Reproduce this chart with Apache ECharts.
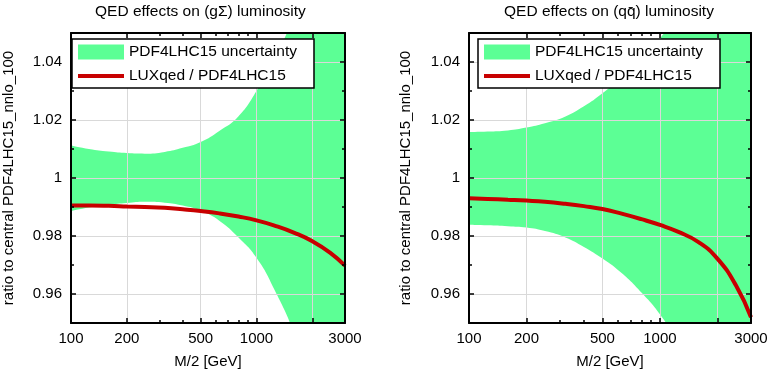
<!DOCTYPE html>
<html>
<head>
<meta charset="utf-8">
<script src="https://cdn.jsdelivr.net/npm/echarts@6/dist/echarts.min.js"></script>
<style>html,body{margin:0;padding:0;background:#fff}#c{width:771px;height:374px}</style>
</head>
<body>
<div id="c"></div>
<script>
// ---- data ----
const massPoints = [100, 125, 160, 200, 250, 320, 400, 500, 630, 800, 1000, 1250, 1600, 2000, 2500, 3000];

// (g Sigma) luminosity
const gsLux   = [0.9905, 0.9905, 0.9904, 0.9902, 0.9900, 0.9897, 0.9892, 0.9886, 0.9878, 0.9867, 0.9854, 0.9836, 0.9811, 0.9782, 0.9742, 0.9698];
const gsLower = [0.9886, 0.9898, 0.9908, 0.9914, 0.9918, 0.9915, 0.9905, 0.9887, 0.9853, 0.9795, 0.9725, 0.9615, 0.9460, 0.9250, 0.9000, 0.8700];
const gsUpper = [1.0112, 1.0100, 1.0091, 1.0086, 1.0084, 1.0090, 1.0104, 1.0124, 1.0162, 1.0213, 1.0300, 1.0410, 1.0565, 1.0750, 1.0970, 1.1200];

// (q qbar) luminosity
const qqLux   = [0.9930, 0.9928, 0.9925, 0.9922, 0.9918, 0.9911, 0.9903, 0.9893, 0.9877, 0.9858, 0.9838, 0.9814, 0.9778, 0.9722, 0.9630, 0.9520];
const qqLower = [0.9839, 0.9837, 0.9834, 0.9829, 0.9817, 0.9795, 0.9762, 0.9722, 0.9672, 0.9605, 0.9530, 0.9430, 0.9300, 0.9150, 0.8950, 0.8750];
const qqUpper = [1.0158, 1.0160, 1.0164, 1.0174, 1.0189, 1.0212, 1.0247, 1.0292, 1.0348, 1.0412, 1.0482, 1.0560, 1.0650, 1.0760, 1.0880, 1.1000];

const titles = ['QED effects on (gΣ) luminosity', 'QED effects on (qq\u0304) luminosity'];
const bandName = 'PDF4LHC15 uncertainty';
const luxName = 'LUXqed / PDF4LHC15';
const xName = 'M/2 [GeV]';
const yName = 'ratio to central PDF4LHC15_nnlo_100';

const xMajorTicks = [100, 200, 500, 1000, 2000, 3000];
const xTickLabels = [100, 200, 500, 1000, 3000];
const xMinorTicks = [300, 400, 600, 700, 800, 900];
const xGridValues = [200, 500, 1000, 2000];
const yMajorTicks = [0.96, 0.98, 1, 1.02, 1.04];
const yMinorTicks = [0.97, 0.99, 1.01, 1.03];

// ---- styling / layout ----
const FONT = '"Liberation Sans", Arial, Helvetica, sans-serif';
const GREEN = '#5cff95';
const RED = '#c80000';
const GRIDC = '#d9d9d9';
const panels = [
  {left: 63, lux: gsLux, lower: gsLower, upper: gsUpper, titleLeft: 95, legendLeft: 72, yNameGap: 55},
  {left: 469, lux: qqLux, lower: qqLower, upper: qqUpper, titleLeft: 504, legendLeft: 478, yNameGap: 56}
];
const TOP = 33, W = 282, H = 293;
const SMOOTH = 0.5;

const grids = [], xAxes = [], yAxes = [], series = [], titleArr = [], legends = [];
const hidden = {show: false};

panels.forEach((p, g) => {
  grids.push({left: p.left, top: TOP, width: W, height: H, containLabel: false});
  titleArr.push({text: titles[g], left: p.titleLeft, top: 4, padding: 0,
    textStyle: {fontFamily: FONT, fontSize: 15.5, fontWeight: 'normal', color: '#000'}});
  legends.push({
    orient: 'vertical', left: p.legendLeft, top: 39, z: 10,
    itemWidth: 46, itemHeight: 15, itemGap: 8, padding: [5, 17, 4, 6],
    backgroundColor: '#fff', borderColor: '#000', borderWidth: 1.5, borderRadius: 0,
    selectedMode: false,
    textStyle: {fontFamily: FONT, fontSize: 15.5, color: '#000'},
    data: [
      {name: bandName, icon: 'rect', itemStyle: {color: GREEN}},
      {name: luxName, icon: 'path://M0,0 L46,0 L46,4 L0,4 Z', itemStyle: {color: RED}}
    ]
  });
  const xBase = {type: 'log', logBase: 10, gridIndex: g, min: 100, max: 3000};
  const yBase = {type: 'value', gridIndex: g, min: 0.95, max: 1.05};
  const axLine = {show: true, lineStyle: {color: '#000', width: 2}};
  const tick = (vals, len) => ({show: true, inside: true, length: len, customValues: vals, lineStyle: {color: '#000', width: 1.5}});
  // x axes: 0 grid lines, 1 main bottom, 2 minor bottom, 3 top major, 4 top minor
  xAxes.push(Object.assign({}, xBase, {position: 'bottom', z: 3, axisLine: hidden, axisLabel: hidden,
    axisTick: {show: false, customValues: xGridValues}, splitLine: {show: true, lineStyle: {color: GRIDC, width: 1}}}));
  xAxes.push(Object.assign({}, xBase, {position: 'bottom', z: 6, axisLine: axLine, axisTick: tick(xMajorTicks, 5),
    axisLabel: {show: true, customValues: xTickLabels, margin: 8, fontFamily: FONT, fontSize: 15, color: '#000',
      formatter: v => String(Math.round(v))},
    splitLine: hidden, name: xName, nameLocation: 'middle', nameGap: 31,
    nameTextStyle: {fontFamily: FONT, fontSize: 15, color: '#000'}}));
  xAxes.push(Object.assign({}, xBase, {position: 'bottom', z: 6, axisLine: hidden, axisTick: tick(xMinorTicks, 3), axisLabel: hidden, splitLine: hidden}));
  xAxes.push(Object.assign({}, xBase, {position: 'top', z: 6, axisLine: axLine, axisTick: tick(xMajorTicks, 5), axisLabel: hidden, splitLine: hidden}));
  xAxes.push(Object.assign({}, xBase, {position: 'top', z: 6, axisLine: hidden, axisTick: tick(xMinorTicks, 3), axisLabel: hidden, splitLine: hidden}));
  // y axes
  yAxes.push(Object.assign({}, yBase, {position: 'left', z: 3, axisLine: hidden, axisLabel: hidden,
    axisTick: {show: false, customValues: yMajorTicks}, splitLine: {show: true, lineStyle: {color: GRIDC, width: 1}}}));
  yAxes.push(Object.assign({}, yBase, {position: 'left', z: 6, axisLine: axLine, axisTick: tick(yMajorTicks, 5),
    axisLabel: {show: true, customValues: yMajorTicks, margin: 9, fontFamily: FONT, fontSize: 15, color: '#000',
      formatter: v => String(+v.toFixed(2))},
    splitLine: hidden, name: yName, nameLocation: 'middle', nameGap: p.yNameGap, nameRotate: 90,
    nameTextStyle: {fontFamily: FONT, fontSize: 15, color: '#000'}}));
  yAxes.push(Object.assign({}, yBase, {position: 'left', z: 6, axisLine: hidden, axisTick: tick(yMinorTicks, 3), axisLabel: hidden, splitLine: hidden}));
  yAxes.push(Object.assign({}, yBase, {position: 'right', z: 6, axisLine: axLine, axisTick: tick(yMajorTicks, 5), axisLabel: hidden, splitLine: hidden}));
  yAxes.push(Object.assign({}, yBase, {position: 'right', z: 6, axisLine: hidden, axisTick: tick(yMinorTicks, 3), axisLabel: hidden, splitLine: hidden}));

  const xi = g * 5 + 1, yi = g * 5 + 1;
  // upper edge of the band, filled down to the axis minimum
  series.push({
    type: 'line', name: bandName, xAxisIndex: xi, yAxisIndex: yi,
    data: massPoints.map((m, i) => [m, p.upper[i]]), smooth: SMOOTH, symbol: 'none',
    lineStyle: {opacity: 0}, itemStyle: {color: GREEN}, areaStyle: {color: GREEN, opacity: 1, origin: 'start'},
    silent: true, z: 2
  });
  // lower edge of the band: blank out everything below it
  series.push({
    type: 'line', name: 'band-lower-' + g, xAxisIndex: xi, yAxisIndex: yi,
    data: massPoints.map((m, i) => [m, p.lower[i]]), smooth: SMOOTH, symbol: 'none',
    lineStyle: {opacity: 0}, itemStyle: {color: '#fff'}, areaStyle: {color: '#fff', opacity: 1, origin: 'start'},
    silent: true, z: 2
  });
  series.push({
    type: 'line', name: luxName, xAxisIndex: xi, yAxisIndex: yi,
    data: massPoints.map((m, i) => [m, p.lux[i]]), smooth: SMOOTH, symbol: 'none',
    lineStyle: {color: RED, width: 4}, itemStyle: {color: RED}, silent: true, z: 5
  });
});

const chart = echarts.init(document.getElementById('c'), null, {renderer: 'canvas'});
chart.setOption({
  animation: false,
  backgroundColor: '#fff',
  textStyle: {fontFamily: FONT},
  title: titleArr,
  legend: legends,
  grid: grids,
  xAxis: xAxes,
  yAxis: yAxes,
  series: series
});
</script>
</body>
</html>
